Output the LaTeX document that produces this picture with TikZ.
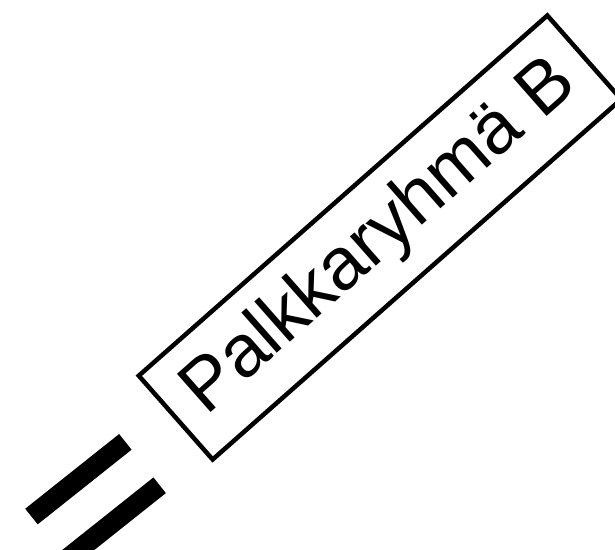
\documentclass[tikz,border=0pt]{standalone}
\usepackage{fontspec}
\setmainfont{Liberation Sans}
\begin{document}
\begin{tikzpicture}[x=1pt,y=1pt,
  labelbox/.style={draw=black, line width=4.5pt, rotate=41.4, minimum width=544.7pt, minimum height=111.7pt, inner sep=0pt, font=\fontsize{74}{80}\selectfont},
  barshape/.style={fill=black, draw=none, rotate=38.5, minimum width=120pt, minimum height=20pt, inner sep=0pt}]
\useasboundingbox (0,0) rectangle (615,549);
\node[labelbox] (label) at (380,311.5) {Palkkaryhmä B};
\node[barshape] (bar1) at (78.4,69.8) {};
\node[barshape] (bar2) at (112.7,26.4) {};
\end{tikzpicture}
\end{document}
